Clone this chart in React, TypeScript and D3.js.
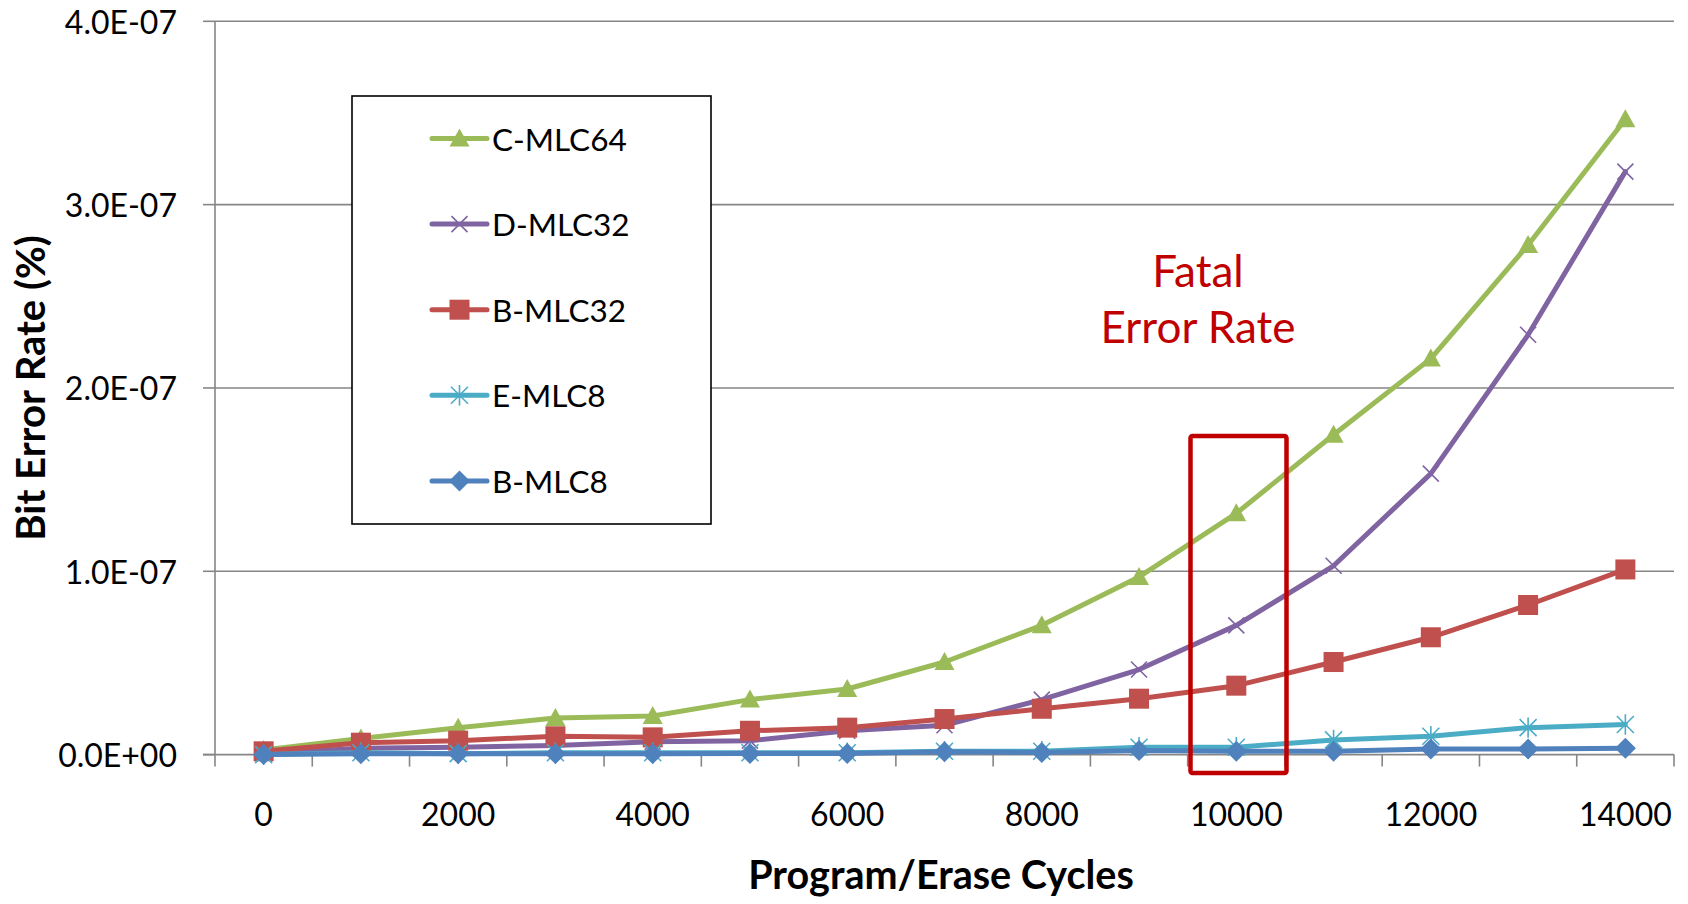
import React from "react";
import * as d3 from "d3";

const cycles = ["0","1000","2000","3000","4000","5000","6000","7000","8000","9000","10000","11000","12000","13000","14000"];
const xTickLabels = ["0","2000","4000","6000","8000","10000","12000","14000"];
const yTicks = [0, 1e-7, 2e-7, 3e-7, 4e-7];

const cMLC64 = [0.025,0.088,0.147,0.20,0.211,0.30,0.358,0.505,0.705,0.969,1.316,1.745,2.16,2.78,3.466].map(v => v * 1e-7);
const dMLC32 = [0.006,0.035,0.04,0.05,0.07,0.076,0.13,0.16,0.30,0.464,0.705,1.03,1.533,2.29,3.18].map(v => v * 1e-7);
const bMLC32 = [0.018,0.065,0.076,0.10,0.094,0.13,0.147,0.194,0.25,0.305,0.376,0.505,0.64,0.816,1.01].map(v => v * 1e-7);
const eMLC8 = [0,0.01,0.005,0.01,0.01,0.01,0.01,0.018,0.018,0.04,0.04,0.08,0.10,0.147,0.164].map(v => v * 1e-7);
const bMLC8 = [0,0.005,0.005,0.005,0.005,0.006,0.006,0.015,0.012,0.022,0.018,0.018,0.03,0.03,0.035].map(v => v * 1e-7);

const seriesNames = ["C-MLC64","D-MLC32","B-MLC32","E-MLC8","B-MLC8"];
const seriesValues = [cMLC64, dMLC32, bMLC32, eMLC8, bMLC8];
const seriesColors = ["#9BBB59","#8064A2","#C0504D","#4BACC6","#4F81BD"];
const seriesMarkers = ["triangle","x","square","asterisk","diamond"];

const FONT = "Lato, 'Open Sans', sans-serif";

function fmtSci(v: number): string {
  if (v === 0) return "0.0E+00";
  const e = Math.floor(Math.log10(v) + 1e-9);
  const m = v / Math.pow(10, e);
  const sign = e < 0 ? "-" : "+";
  return m.toFixed(1) + "E" + sign + String(Math.abs(e)).padStart(2, "0");
}

function Marker({ kind, x, y, color }: { kind: string; x: number; y: number; color: string }) {
  if (kind === "triangle") {
    const s = 10;
    return <path d={`M${x},${y - s}L${x + s},${y + s * 0.8}L${x - s},${y + s * 0.8}Z`} fill={color} />;
  }
  if (kind === "square") {
    const s = 10;
    return <rect x={x - s} y={y - s} width={2 * s} height={2 * s} fill={color} />;
  }
  if (kind === "diamond") {
    const s = 10.5;
    return <path d={`M${x},${y - s}L${x + s},${y}L${x},${y + s}L${x - s},${y}Z`} fill={color} />;
  }
  if (kind === "x") {
    const s = 8;
    return <path d={`M${x - s},${y - s}L${x + s},${y + s}M${x - s},${y + s}L${x + s},${y - s}`} stroke={color} strokeWidth={1.6} fill="none" />;
  }
  const s = 8.5;
  return (
    <path
      d={`M${x - s},${y - s}L${x + s},${y + s}M${x - s},${y + s}L${x + s},${y - s}M${x},${y - s * 1.2}L${x},${y + s * 1.2}`}
      stroke={color}
      strokeWidth={1.6}
      fill="none"
    />
  );
}

export default function App() {
  const W = 1688, H = 904;
  const left = 215, right = 1674, top = 21.3, bottom = 754.6;

  const x = d3.scaleBand<string>().domain(cycles).range([left, right]).padding(0);
  const bw = x.bandwidth();
  const cx = (c: string) => (x(c) as number) + bw / 2;
  const y = d3.scaleLinear().domain([0, 4e-7]).range([bottom, top]);

  const line = d3.line<number>().x((_, i) => cx(cycles[i])).y(d => y(d));

  const gridColor = "#868686";
  const boundaries = cycles.map(c => x(c) as number).concat([right]);

  const legX = 352, legY = 96, legW = 359, legH = 428;
  const legRowY = (i: number) => 138.5 + i * 85.6;

  return (
    <svg width={W} height={H} style={{ position: "absolute", left: 0, top: 0, background: "#fff" }}>
      <rect x={0} y={0} width={W} height={H} fill="#fff" />
      {yTicks.map((t, i) => (
        <g key={i}>
          {t !== 0 && <line x1={left} x2={right} y1={y(t)} y2={y(t)} stroke={gridColor} strokeWidth={1.6} />}
          <line x1={left - 12} x2={left} y1={y(t)} y2={y(t)} stroke={gridColor} strokeWidth={1.6} />
          <text x={177} y={y(t)} textAnchor="end" dominantBaseline="central" fontFamily={FONT} fontSize={32} fill="#000">
            {fmtSci(t)}
          </text>
        </g>
      ))}
      <line x1={left} x2={left} y1={top} y2={bottom} stroke={gridColor} strokeWidth={1.6} />
      <line x1={left - 12} x2={right} y1={bottom} y2={bottom} stroke={gridColor} strokeWidth={1.6} />
      {boundaries.map((b, i) => (
        <line key={i} x1={b} x2={b} y1={bottom} y2={bottom + 12} stroke={gridColor} strokeWidth={1.6} />
      ))}
      {xTickLabels.map((l, i) => (
        <text key={i} x={cx(l)} y={813} textAnchor="middle" dominantBaseline="central" fontFamily={FONT} fontSize={32} fill="#000">
          {l}
        </text>
      ))}
      <text x={941} y={889} textAnchor="middle" fontFamily={FONT} fontWeight="bold" fontSize={39.5} fill="#000">
        Program/Erase Cycles
      </text>
      <text
        transform={`translate(30,388) rotate(-90)`}
        textAnchor="middle"
        dominantBaseline="central"
        fontFamily={FONT}
        fontWeight="bold"
        fontSize={40}
        fill="#000"
      >
        Bit Error Rate (%)
      </text>

      {seriesValues.map((vals, si) => (
        <g key={si}>
          <path d={line(vals) || ""} fill="none" stroke={seriesColors[si]} strokeWidth={5} strokeLinejoin="round" strokeLinecap="round" />
          {vals.map((v, i) => (
            <Marker key={i} kind={seriesMarkers[si]} x={cx(cycles[i])} y={y(v)} color={seriesColors[si]} />
          ))}
        </g>
      ))}

      <rect x={1190.5} y={436} width={96} height={337} fill="none" stroke="#C00000" strokeWidth={4.5} rx={2} />
      <text x={1198} y={270} textAnchor="middle" dominantBaseline="central" fontFamily={FONT} fontSize={44} fill="#C00000">
        Fatal
      </text>
      <text x={1198} y={326} textAnchor="middle" dominantBaseline="central" fontFamily={FONT} fontSize={44} fill="#C00000">
        Error Rate
      </text>

      <rect x={legX} y={legY} width={legW} height={legH} fill="#fff" stroke="#000" strokeWidth={1.6} />
      {seriesNames.map((n, i) => (
        <g key={i}>
          <line x1={432} x2={487} y1={legRowY(i)} y2={legRowY(i)} stroke={seriesColors[i]} strokeWidth={5} strokeLinecap="round" />
          <Marker kind={seriesMarkers[i]} x={459.5} y={legRowY(i)} color={seriesColors[i]} />
          <text x={492} y={legRowY(i)} dominantBaseline="central" fontFamily={FONT} fontSize={31.5} fill="#000">
            {n}
          </text>
        </g>
      ))}
    </svg>
  );
}
